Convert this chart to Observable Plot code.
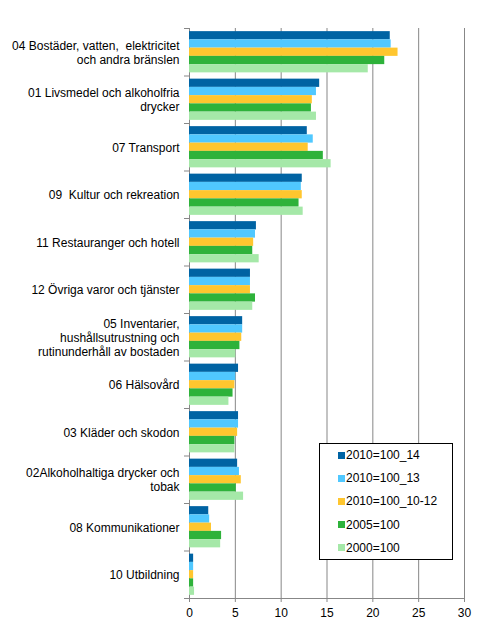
<!DOCTYPE html>
<html><head><meta charset="utf-8">
<script src="https://cdn.jsdelivr.net/npm/d3@7"></script>
<script src="https://cdn.jsdelivr.net/npm/@observablehq/plot@0.6"></script>
<style>
body{margin:0;background:#fff;font-family:Arial,"Liberation Sans",sans-serif;}
#wrap{position:relative;width:490px;height:641px;}
#legend{position:absolute;left:319px;top:443px;width:132px;height:115px;border:1px solid #000;background:#fff;font-size:12px;color:#000;}
.item{position:absolute;left:18px;height:14px;line-height:14px;display:flex;align-items:center;white-space:nowrap;}
.sw{width:7px;height:7px;margin-right:1px;flex:none;}
</style></head><body><div id="wrap"></div>
<script>
const categories = [
  "04 Bostäder, vatten,  elektricitet\noch andra bränslen",
  "01 Livsmedel och alkoholfria\ndrycker",
  "07 Transport",
  "09  Kultur och rekreation",
  "11 Restauranger och hotell",
  "12 Övriga varor och tjänster",
  "05 Inventarier,\nhushållsutrustning och\nrutinunderhåll av bostaden",
  "06 Hälsovård",
  "03 Kläder och skodon",
  "02Alkoholhaltiga drycker och\ntobak",
  "08 Kommunikationer",
  "10 Utbildning"
];
const seriesNames = ["2010=100_14", "2010=100_13", "2010=100_10-12", "2005=100", "2000=100"];
const values2010_14   = [21.9, 14.2, 12.85, 12.3, 7.3, 6.65, 5.8, 5.35, 5.35, 5.25, 2.1, 0.45];
const values2010_13   = [22.0, 13.85, 13.5, 12.2, 7.2, 6.65, 5.8, 5.05, 5.35, 5.45, 2.2, 0.45];
const values2010_1012 = [22.75, 13.4, 12.95, 12.3, 7.0, 6.65, 5.7, 4.95, 5.25, 5.65, 2.4, 0.45];
const values2005      = [21.3, 13.3, 14.6, 11.95, 6.9, 7.2, 5.5, 4.75, 4.95, 5.1, 3.5, 0.45];
const values2000      = [19.5, 13.85, 15.45, 12.4, 7.6, 6.9, 5.05, 4.3, 4.95, 5.9, 3.4, 0.55];
const xTicks = [0, 5, 10, 15, 20, 25, 30];
const colors = ["#0063a3", "#50c8ff", "#ffc62f", "#2eb23a", "#a5e8a8"];

const seriesValues = [values2010_14, values2010_13, values2010_1012, values2005, values2000];
const table = [];
categories.forEach((c, i) => seriesValues.forEach((vals, j) => table.push({category: c, series: seriesNames[j], value: vals[i]})));

const W = 490, H = 641, mT = 28, mB = 43, mL = 189, mR = 26;
const bw = (H - mT - mB) / categories.length;
const pad = bw * 0.066, bh = (bw - 2 * pad) / seriesNames.length;
const gray = "#878787";

const marks = [
  Plot.gridX({ticks: xTicks, stroke: gray, strokeOpacity: 1, strokeWidth: 1}),
  ...seriesNames.map((s, j) => Plot.barX(table.filter(d => d.series === s), {
    x: "value", y: "category", fill: "series",
    insetTop: pad + j * bh, insetBottom: bw - pad - (j + 1) * bh
  })),
  Plot.ruleY(categories, {y: d => d, dy: -bw / 2, x1: 0, x2: 0, insetLeft: -5, stroke: gray}),
  Plot.ruleY([categories[categories.length - 1]], {y: d => d, dy: bw / 2, insetLeft: -5, stroke: gray}),
  Plot.axisX({ticks: xTicks, tickSize: 4, tickPadding: 6, fontSize: 12, stroke: gray, label: null}),
  Plot.axisY({tickSize: 0, tickPadding: 10, fontSize: 12, lineHeight: 1.17, label: null})
];

const chart = Plot.plot({
  width: W, height: H,
  marginTop: mT, marginBottom: mB, marginLeft: mL, marginRight: mR,
  style: {fontFamily: 'Arial, "Liberation Sans", sans-serif', fontSize: "12px", background: "#fff", color: "#000"},
  x: {domain: [0, 30]},
  y: {domain: categories, padding: 0, round: false},
  color: {domain: seriesNames, range: colors},
  marks
});
const wrap = document.getElementById("wrap");
wrap.appendChild(chart);

const legend = document.createElement("div");
legend.id = "legend";
seriesNames.forEach((s, j) => {
  const it = document.createElement("div");
  it.className = "item";
  it.style.top = (4 + j * 23.2) + "px";
  const sw = document.createElement("span");
  sw.className = "sw";
  sw.style.background = colors[j];
  const tx = document.createElement("span");
  tx.textContent = s;
  it.appendChild(sw); it.appendChild(tx);
  legend.appendChild(it);
});
wrap.appendChild(legend);
</script>
</body></html>
